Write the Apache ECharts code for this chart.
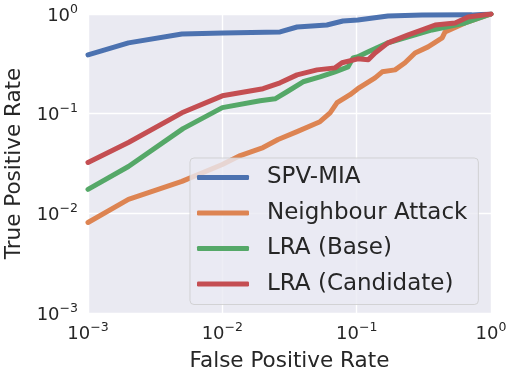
<!DOCTYPE html>
<html>
<head>
<meta charset="utf-8">
<script src="https://cdn.jsdelivr.net/npm/echarts@6/dist/echarts.min.js"></script>
<style>
  html, body { margin: 0; padding: 0; background: #fff; }
  #chart { width: 515px; height: 378px; }
</style>
</head>
<body>
<div id="chart"></div>
<script>
// series names (legend order)
var seriesNames = ['SPV-MIA', 'Neighbour Attack', 'LRA (Base)', 'LRA (Candidate)'];
var colors = ['#4c72b0', '#dd8452', '#55a868', '#c44e52'];

// tick values for both log axes
var tickValues = [0.001, 0.01, 0.1, 1];
var tickExponents = ['\u22123', '\u22122', '\u22121', '0'];

// [FPR, TPR] points
var spvMia = [
    [0.001, 0.389], [0.002, 0.513], [0.005, 0.631], [0.0101, 0.646],
    [0.0269, 0.661], [0.036, 0.741], [0.060, 0.776], [0.079, 0.851],
    [0.102, 0.871], [0.171, 0.955], [0.307, 0.977], [0.72, 0.98], [1, 1]
];
var neighbour = [
    [0.001, 0.0081], [0.002, 0.0138], [0.005, 0.0209], [0.01, 0.0309],
    [0.0136, 0.038], [0.0201, 0.0457], [0.026, 0.055], [0.036, 0.066],
    [0.0533, 0.083], [0.0634, 0.102], [0.0715, 0.129], [0.0893, 0.155],
    [0.102, 0.178], [0.137, 0.229], [0.155, 0.263], [0.193, 0.275],
    [0.229, 0.324], [0.272, 0.407], [0.340, 0.468], [0.433, 0.575],
    [0.455, 0.661], [0.641, 0.813], [1, 1]
];
var lraBase = [
    [0.001, 0.0174], [0.002, 0.0295], [0.0051, 0.0708], [0.01, 0.115],
    [0.0191, 0.135], [0.0247, 0.141], [0.0303, 0.166], [0.0399, 0.209],
    [0.0533, 0.234], [0.069, 0.263], [0.0863, 0.295], [0.094, 0.363],
    [0.102, 0.372], [0.122, 0.417], [0.171, 0.513], [0.242, 0.589],
    [0.364, 0.692], [0.641, 0.813], [1, 1]
];
var lraCandidate = [
    [0.001, 0.0324], [0.002, 0.0513], [0.005, 0.102], [0.01, 0.151],
    [0.0201, 0.178], [0.0269, 0.204], [0.036, 0.245], [0.0507, 0.275],
    [0.069, 0.288], [0.0778, 0.324], [0.102, 0.355], [0.122, 0.347],
    [0.137, 0.407], [0.171, 0.513], [0.242, 0.617], [0.307, 0.692],
    [0.384, 0.776], [0.541, 0.813], [0.675, 0.933], [1, 1]
];
var allData = [spvMia, neighbour, lraBase, lraCandidate];

var font = 'DejaVu Sans';
var textColor = '#262626';

function powLabel(v) {
    var i = tickValues.findIndex(function (t) { return Math.abs(Math.log10(t) - Math.log10(v)) < 1e-6; });
    if (i < 0) return '';
    return '{b|10}{s|' + tickExponents[i] + '}';
}
var labelRich = {
    b: { fontFamily: font, fontSize: 18, color: textColor, lineHeight: 22, verticalAlign: 'bottom' },
    s: { fontFamily: font, fontSize: 12.5, color: textColor, lineHeight: 22, verticalAlign: 'top' }
};

function logAxis(name, gap) {
    return {
        type: 'log',
        logBase: 10,
        min: 0.001,
        max: 1,
        name: name,
        nameLocation: 'middle',
        nameGap: gap,
        nameTextStyle: { fontFamily: font, fontSize: 21.5, color: textColor },
        axisLine: { show: false },
        axisTick: { show: false },
        minorTick: { show: false },
        splitLine: { show: true, lineStyle: { color: '#ffffff', width: 1.4 } },
        axisLabel: {
            fontFamily: font, color: textColor, margin: 8,
            formatter: powLabel, rich: labelRich
        }
    };
}

var chart = echarts.init(document.getElementById('chart'), null, { renderer: 'canvas' });

var xAxis = logAxis('False Positive Rate', 37);
var yAxis = logAxis('True Positive Rate', 57);
yAxis.axisLabel.margin = 10;

chart.setOption({
    animation: false,
    backgroundColor: '#ffffff',
    color: colors,
    grid: {
        left: 88, right: 24, top: 14, bottom: 65,
        outerBoundsMode: 'none',
        containLabel: false,
        show: true, backgroundColor: '#eaeaf2', borderWidth: 0
    },
    legend: {
        orient: 'vertical',
        left: 190,
        top: 158,
        padding: [8, 11, 9, 7],
        itemGap: 12.5,
        itemWidth: 52,
        itemHeight: 5,
        icon: 'roundRect',
        backgroundColor: 'rgba(234,234,242,0.8)',
        borderColor: 'rgba(204,204,204,0.8)',
        borderWidth: 1,
        borderRadius: 4,
        textStyle: { fontFamily: font, fontSize: 23, color: textColor, padding: [0, 0, 0, 13] },
        data: seriesNames
    },
    xAxis: xAxis,
    yAxis: yAxis,
    series: seriesNames.map(function (n, i) {
        return {
            name: n,
            type: 'line',
            data: allData[i],
            showSymbol: false,
            lineStyle: { width: 5, color: colors[i], cap: 'round', join: 'round' },
            itemStyle: { color: colors[i] }
        };
    })
});
</script>
</body>
</html>
